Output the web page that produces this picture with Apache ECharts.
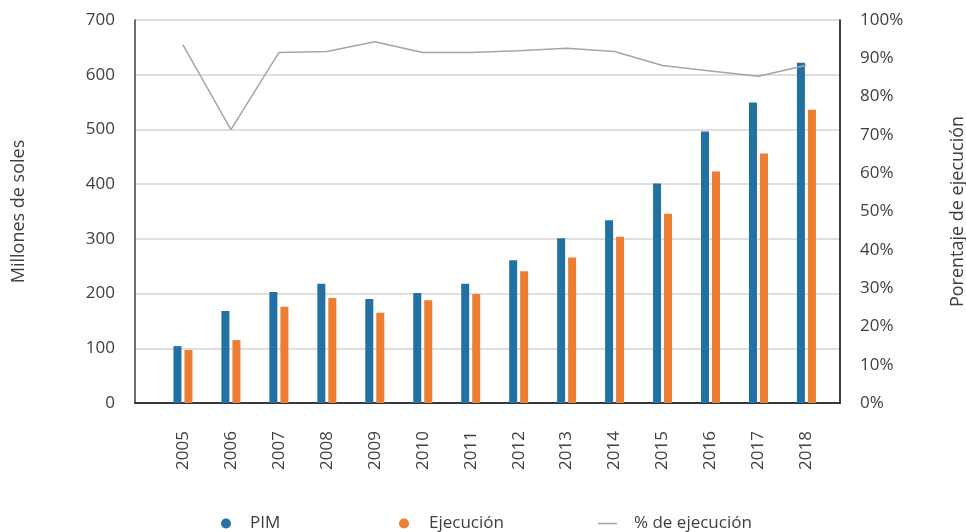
<!DOCTYPE html>
<html>
<head>
<meta charset="utf-8">
<script src="https://cdn.jsdelivr.net/npm/echarts@6/dist/echarts.min.js"></script>
<style>
  html, body { margin: 0; padding: 0; background: #fff; }
  #chart { width: 966px; height: 532px; }
</style>
</head>
<body>
<div id="chart"></div>
<script>
  // values
  var years = [2005, 2006, 2007, 2008, 2009, 2010, 2011, 2012, 2013, 2014, 2015, 2016, 2017, 2018];
  var pim = [104, 168, 203, 218, 190, 201, 218, 261, 301, 334, 401, 496, 549, 622];
  var ejecucion = [97, 115, 176, 192, 165, 188, 199, 241, 266, 304, 346, 423, 456, 536];
  var pctEjecucion = [93.5, 71.4, 91.5, 91.8, 94.3, 91.5, 91.5, 92.0, 92.6, 91.8, 88.1, 86.7, 85.3, 88.2];
  var leftTicks = [0, 100, 200, 300, 400, 500, 600, 700];

  var font = '"Open Sans", sans-serif';
  var txt = '#404040';

  function pairs(vals) {
    return years.map(function (y, i) { return [y, vals[i]]; });
  }

  var chart = echarts.init(document.getElementById('chart'));
  chart.setOption({
    animation: false,
    textStyle: { fontFamily: font },
    grid: { left: 135, right: 126, top: 20, bottom: 129, containLabel: false, outerBoundsMode: 'none' },
    legend: [
      {
        data: ['PIM'], left: 216, top: 510, icon: 'circle',
        itemWidth: 10, itemHeight: 10,
        textStyle: { fontSize: 17, color: txt, fontFamily: font, padding: [0, 0, 0, 14] }
      },
      {
        data: ['Ejecución'], left: 394, top: 510, icon: 'circle',
        itemWidth: 10, itemHeight: 10,
        textStyle: { fontSize: 17, color: txt, fontFamily: font, padding: [0, 0, 0, 15] }
      },
      {
        data: ['% de ejecución'], left: 593, top: 510, icon: 'rect',
        itemWidth: 19, itemHeight: 1.5,
        textStyle: { fontSize: 17, color: txt, fontFamily: font, padding: [0, 0, 0, 12] }
      }
    ],
    xAxis: {
      type: 'value',
      min: 2004,
      max: 2018.7,
      interval: 1,
      axisLine: { show: true, onZero: false, lineStyle: { color: '#000', width: 1.5 } },
      axisTick: { show: false },
      splitLine: { show: false },
      axisLabel: {
        rotate: 90,
        margin: 28,
        fontSize: 17,
        color: txt,
        fontFamily: font,
        showMaxLabel: false,
        formatter: function (v) {
          return years.indexOf(v) >= 0 ? String(v) : '';
        }
      }
    },
    yAxis: [
      {
        type: 'value',
        min: leftTicks[0],
        max: leftTicks[leftTicks.length - 1],
        interval: 100,
        name: 'Millones de soles',
        nameLocation: 'middle',
        nameRotate: 90,
        nameGap: 107,
        nameTextStyle: { fontSize: 18, color: txt, fontFamily: font },
        axisLine: { show: true, lineStyle: { color: '#404040', width: 1.5 } },
        axisTick: { show: false },
        axisLabel: { margin: 20, fontSize: 17, color: txt, fontFamily: font },
        splitLine: { lineStyle: { color: '#d4d4d4', width: 1.5 } }
      },
      {
        type: 'value',
        min: 0,
        max: 100,
        interval: 10,
        position: 'right',
        name: 'Porentaje de ejecución',
        nameLocation: 'middle',
        nameRotate: 90,
        nameGap: 109,
        nameTextStyle: { fontSize: 18, color: txt, fontFamily: font },
        axisLine: { show: true, lineStyle: { color: '#000', width: 1.5 } },
        axisTick: { show: false },
        axisLabel: { margin: 20, fontSize: 17, color: txt, fontFamily: font, formatter: '{value}%' },
        splitLine: { show: false }
      }
    ],
    series: [
      {
        name: 'PIM',
        type: 'bar',
        barWidth: 8,
        barGap: '37.5%',
        itemStyle: { color: '#2370a2' },
        data: pairs(pim)
      },
      {
        name: 'Ejecución',
        type: 'bar',
        barWidth: 8,
        barGap: '37.5%',
        itemStyle: { color: '#ed7d31' },
        data: pairs(ejecucion)
      },
      {
        name: '% de ejecución',
        type: 'line',
        yAxisIndex: 1,
        symbol: 'none',
        lineStyle: { color: '#a5a5a5', width: 1.5 },
        itemStyle: { color: '#a5a5a5' },
        data: pairs(pctEjecucion)
      }
    ]
  });
</script>
</body>
</html>
